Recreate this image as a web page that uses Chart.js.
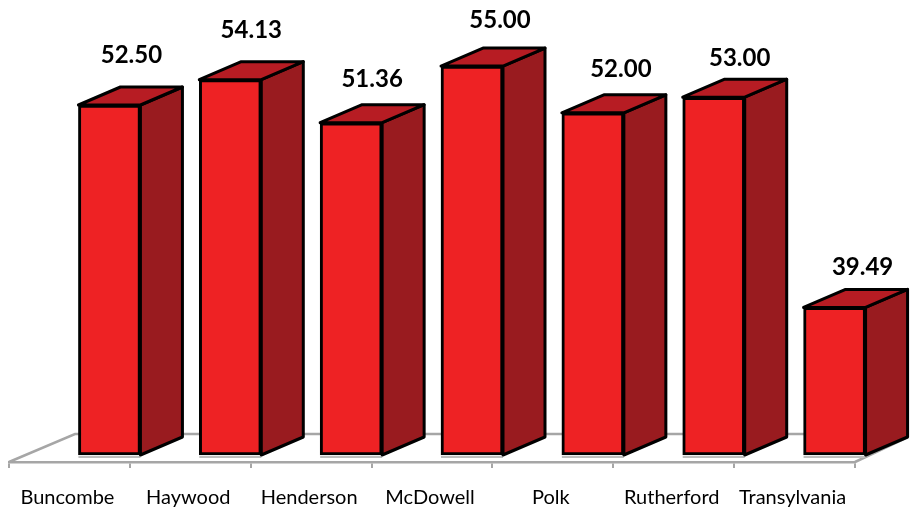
<!DOCTYPE html>
<html>
<head>
<meta charset="utf-8">
<script src="https://cdn.jsdelivr.net/npm/chart.js@4"></script>
<style>
  html, body { margin: 0; padding: 0; background: #fff; overflow: hidden; }
  canvas { display: block; }
</style>
</head>
<body>
<canvas id="chart" width="910" height="509"></canvas>
<script>
const counties = ['Buncombe', 'Haywood', 'Henderson', 'McDowell', 'Polk', 'Rutherford', 'Transylvania'];
const scores = [52.50, 54.13, 51.36, 55.00, 52.00, 53.00, 39.49];
const axisMin = 30;
const axisMax = 59.7;

// fake 3d settings, the bars sit on a floor behind the axis line
const barShift = { x: 40, y: -7 };
const depth = { x: 42, y: -18 };
const floorDepth = { x: 66, y: -28 };
const labelNudgeX = [22, 21, 21, 28, 28, 26, 28];
const labelNudgeY = [50, 49, 43, 46, 44, 39, 40];

const FRONT = '#ee2224';
const TOP = '#b71c23';
const SIDE = '#991b1f';
const AXIS = '#a6a6a6';

function face(ctx, pts, fill) {
  ctx.beginPath();
  pts.forEach((p, i) => (i ? ctx.lineTo(p[0], p[1]) : ctx.moveTo(p[0], p[1])));
  ctx.closePath();
  ctx.fillStyle = fill;
  ctx.fill();
  ctx.stroke();
}

const fake3d = {
  id: 'fake3d',
  beforeDatasetsDraw(chart) {
    const ctx = chart.ctx;
    const area = chart.chartArea;

    // floor
    ctx.save();
    ctx.strokeStyle = AXIS;
    ctx.lineWidth = 2.5;
    ctx.beginPath();
    ctx.moveTo(area.left, area.bottom);
    ctx.lineTo(area.left + floorDepth.x, area.bottom + floorDepth.y);
    ctx.lineTo(908, area.bottom + floorDepth.y);
    ctx.moveTo(area.right, area.bottom);
    ctx.lineTo(908, area.bottom - 25);
    ctx.stroke();
    ctx.restore();

    ctx.save();
    ctx.translate(barShift.x, barShift.y);
    ctx.strokeStyle = '#000';
    ctx.lineWidth = 3;
    ctx.lineJoin = 'round';
    chart.getDatasetMeta(0).data.forEach(bar => {
      const l = bar.x - bar.width / 2;
      const r = bar.x + bar.width / 2;
      const t = bar.y;
      const b = bar.base;
      // shadow line under the bar
      ctx.save();
      ctx.strokeStyle = '#bdbdbd';
      ctx.lineWidth = 2;
      ctx.beginPath();
      ctx.moveTo(l, b + 2);
      ctx.lineTo(r, b + 2);
      ctx.stroke();
      ctx.restore();
      face(ctx, [[r, t], [r + depth.x, t + depth.y], [r + depth.x, b + depth.y], [r, b]], SIDE);
      face(ctx, [[l, t], [l + depth.x, t + depth.y], [r + depth.x, t + depth.y], [r, t]], TOP);
    });
    ctx.restore();

    // bars get drawn by chart.js right after this, afterDatasetsDraw undoes it
    ctx.save();
    ctx.translate(barShift.x, barShift.y);
  },
  afterDatasetsDraw(chart) {
    const ctx = chart.ctx;
    ctx.restore();

    ctx.save();
    ctx.fillStyle = '#000';
    ctx.font = 'bold 24px Lato';
    ctx.textAlign = 'center';
    ctx.textBaseline = 'middle';
    chart.getDatasetMeta(0).data.forEach((bar, i) => {
      ctx.fillText(scores[i].toFixed(2), bar.x + barShift.x + labelNudgeX[i], bar.y + barShift.y - labelNudgeY[i]);
    });
    ctx.restore();
  }
};

new Chart(document.getElementById('chart'), {
  type: 'bar',
  data: {
    labels: counties,
    datasets: [{
      data: scores,
      base: axisMin,
      backgroundColor: FRONT,
      borderColor: '#000',
      borderWidth: 3,
      borderSkipped: false,
      barThickness: 62,
      clip: false
    }]
  },
  options: {
    responsive: false,
    animation: false,
    devicePixelRatio: 1,
    layout: { padding: { left: 9, right: 55, top: 0, bottom: 0 } },
    plugins: { legend: { display: false }, tooltip: { enabled: false } },
    scales: {
      x: {
        afterFit(scale) { scale.height = 47; },
        border: { color: AXIS, width: 2.5 },
        grid: { drawOnChartArea: false, color: AXIS, lineWidth: 2, tickLength: 6 },
        ticks: { color: '#000', font: { family: 'Lato', size: 20 }, padding: 18, labelOffset: -2, maxRotation: 0, autoSkip: false }
      },
      y: { display: false, min: axisMin, max: axisMax }
    }
  },
  plugins: [fake3d]
});
</script>
</body>
</html>
